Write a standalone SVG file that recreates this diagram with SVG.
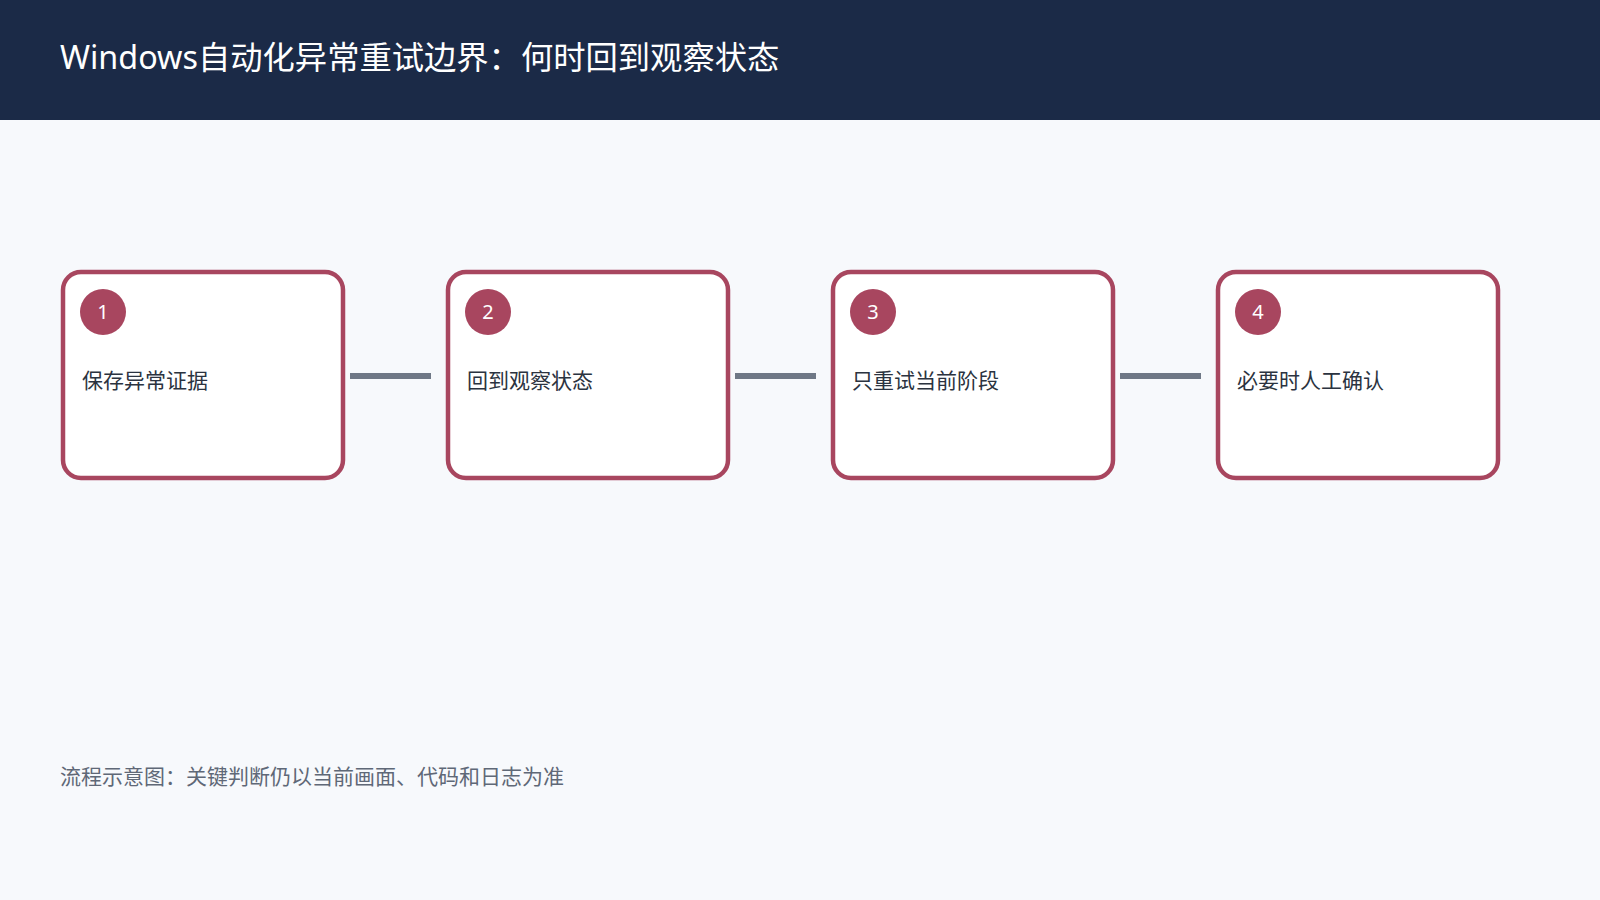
<svg xmlns="http://www.w3.org/2000/svg" width="1600" height="900" viewBox="0 0 1600 900">
<style>
.box{fill:#ffffff;stroke:#a8465f;stroke-width:4.5}
.badge{fill:#a8465f}
.num{font-family:"Noto Sans","Liberation Sans",sans-serif;font-size:20px;fill:#ffffff;text-anchor:middle}
.label{font-family:"Noto Sans CJK SC","Noto Sans",sans-serif;font-size:21px;fill:#2b3340}
.conn{stroke:#6f7886;stroke-width:6;fill:none}
</style>
<rect x="0" y="0" width="1600" height="900" fill="#f7f9fc"/>
<rect x="0" y="0" width="1600" height="120" fill="#1b2a47"/>
<text x="60" y="69" font-family="'Noto Sans','Noto Sans CJK SC',sans-serif" font-size="32.3" fill="#ffffff">Windows自动化异常重试边界：何时回到观察状态</text>
<g id="connectors">
<line class="conn" x1="350" y1="376" x2="431" y2="376"/>
<line class="conn" x1="735" y1="376" x2="816" y2="376"/>
<line class="conn" x1="1120" y1="376" x2="1201" y2="376"/>
</g>
<g id="node1">
<rect class="box" x="63" y="272" width="280" height="206" rx="18"/>
<circle class="badge" cx="103" cy="312" r="23"/>
<text class="num" x="103" y="319">1</text>
<text class="label" x="82" y="388">保存异常证据</text>
</g>
<g id="node2">
<rect class="box" x="448" y="272" width="280" height="206" rx="18"/>
<circle class="badge" cx="488" cy="312" r="23"/>
<text class="num" x="488" y="319">2</text>
<text class="label" x="467" y="388">回到观察状态</text>
</g>
<g id="node3">
<rect class="box" x="833" y="272" width="280" height="206" rx="18"/>
<circle class="badge" cx="873" cy="312" r="23"/>
<text class="num" x="873" y="319">3</text>
<text class="label" x="852" y="388">只重试当前阶段</text>
</g>
<g id="node4">
<rect class="box" x="1218" y="272" width="280" height="206" rx="18"/>
<circle class="badge" cx="1258" cy="312" r="23"/>
<text class="num" x="1258" y="319">4</text>
<text class="label" x="1237" y="388">必要时人工确认</text>
</g>
<text x="60" y="784" font-family="'Noto Sans CJK SC','Noto Sans',sans-serif" font-size="21" fill="#5f6877">流程示意图：关键判断仍以当前画面、代码和日志为准</text>
</svg>
